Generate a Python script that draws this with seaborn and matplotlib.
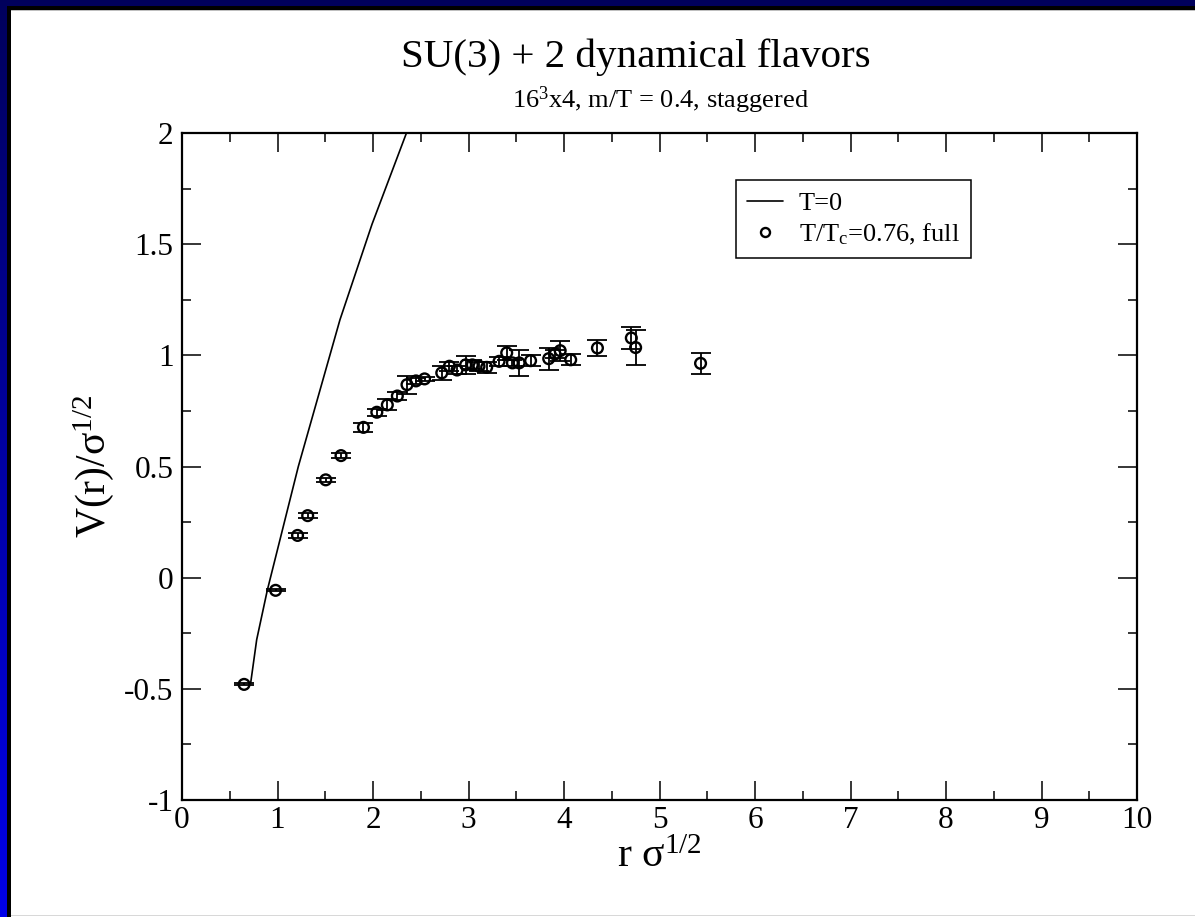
import numpy as np
import matplotlib
matplotlib.use("Agg")
import matplotlib.pyplot as plt
import seaborn as sns
from matplotlib.lines import Line2D
from matplotlib.ticker import MultipleLocator

# ---------------- data ----------------
r_pts = [0.65, 0.98, 1.21, 1.316, 1.505, 1.665, 1.90, 2.04, 2.15, 2.255, 2.356,
         2.45, 2.54, 2.72, 2.80, 2.88, 2.97, 3.04, 3.11, 3.19, 3.32, 3.40, 3.46,
         3.53, 3.65, 3.84, 3.906, 3.96, 4.07, 4.35, 4.705, 4.75, 5.43]
v_pts = [-0.48, -0.057, 0.19, 0.279, 0.44, 0.549, 0.676, 0.744, 0.777, 0.817, 0.868,
         0.885, 0.894, 0.921, 0.951, 0.934, 0.957, 0.957, 0.951, 0.946, 0.973, 1.011, 0.966,
         0.966, 0.976, 0.985, 1.006, 1.021, 0.98, 1.033, 1.078, 1.035, 0.964]
v_err = [0.005, 0.005, 0.01, 0.01, 0.01, 0.01, 0.02, 0.015, 0.025, 0.02, 0.04,
         0.015, 0.01, 0.032, 0.02, 0.02, 0.04, 0.02, 0.02, 0.025, 0.02, 0.03, 0.015,
         0.06, 0.025, 0.05, 0.02, 0.045, 0.025, 0.037, 0.05, 0.08, 0.047]

# T=0 curve, points
r_curve = [0.719, 0.782, 0.893, 1.218, 1.654, 1.99, 2.353]
v_curve = [-0.474, -0.279, -0.057, 0.50, 1.16, 1.59, 2.003]

x_ticks = [0, 1, 2, 3, 4, 5, 6, 7, 8, 9, 10]
x_labels = ["0", "1", "2", "3", "4", "5", "6", "7", "8", "9", "10"]
y_ticks = [-1, -0.5, 0, 0.5, 1, 1.5, 2]
y_labels = ["-1", "-0.5", "0", "0.5", "1", "1.5", "2"]

title = "SU(3) + 2 dynamical flavors"
subtitle = r"16$^{3}$x4, m/T = 0.4, staggered"
legend_labels = ["T=0", r"T/T$_{\mathrm{c}}$=0.76, full"]

# ---------------- style ----------------
sns.set_style("ticks")
plt.rcParams.update({
    "font.family": ["Liberation Serif", "DejaVu Serif"],
    "mathtext.fontset": "custom",
    "mathtext.rm": "Liberation Serif",
    "mathtext.it": "Liberation Serif:italic",
    "mathtext.bf": "Liberation Serif:bold",
    "axes.unicode_minus": False,
    "text.color": "black",
    "axes.labelcolor": "black",
    "xtick.color": "black",
    "ytick.color": "black",
})

W, H = 1195, 917
fig = plt.figure(figsize=(W / 100, H / 100), dpi=100)
fig.patch.set_facecolor("white")

# decorative blue frame (top and left), black inner rim
bg = np.ones((H, W, 3))
grad = np.linspace(0.36, 0.92, H)
blue = np.zeros((H, 3))
blue[:, 2] = grad
bg[:6, :, :] = blue[:6, None, :]
bg[:, :7, :] = blue[:, None, :]
bg[6:10, 7:, :] = 0.0
bg[6:, 7:11, :] = 0.0
bg[10, 11:, :] = 0.75
bg[915, 11:, :] = 0.85
fig.figimage(bg, xo=0, yo=0, origin="upper", zorder=-5)

ax = fig.add_axes([182 / W, 1 - 800 / H, (1137 - 182) / W, (800 - 133) / H])
ax.set_facecolor("white")

sns.lineplot(x=r_curve, y=v_curve, sort=False, estimator=None, color="black",
             linewidth=1.2, ax=ax, zorder=2)
ax.errorbar(r_pts, v_pts, yerr=v_err, fmt="none", ecolor="black",
            elinewidth=1.3, capsize=7, capthick=1.3, zorder=3)
sns.scatterplot(x=r_pts, y=v_pts, marker="o", s=60, ax=ax, zorder=4)
coll = ax.collections[-1]
coll.set_facecolor("none")
coll.set_edgecolor("black")
coll.set_linewidth(1.7)

ax.set_xlim(0, 10)
ax.set_ylim(-1, 2)
ax.set_xticks(x_ticks)
ax.set_xticklabels(x_labels)
ax.set_yticks(y_ticks)
ax.set_yticklabels(y_labels)
ax.xaxis.set_minor_locator(MultipleLocator(0.5))
ax.yaxis.set_minor_locator(MultipleLocator(0.25))
ax.tick_params(which="both", direction="in", top=True, right=True,
               color="black", width=1.1, labelsize=22.5, labelcolor="black")
ax.tick_params(which="major", length=13.7)
ax.tick_params(which="minor", length=6.8)
ax.tick_params(axis="x", which="major", pad=4)
ax.tick_params(axis="y", which="major", pad=6)
for s in ax.spines.values():
    s.set_visible(True)
    s.set_linewidth(1.6)
    s.set_color("black")

ax.set_xlabel(r"r σ$^{1/2}$", fontsize=30, labelpad=2, color="black")
ax.set_ylabel(r"V(r)/σ$^{1/2}$", fontsize=30, labelpad=6, color="black")

fig.text(636 / W, 1 - 66.7 / H, title, fontsize=29.5, ha="center", va="baseline",
         color="black")
fig.text(660 / W, 1 - 108.3 / H, subtitle, fontsize=19, ha="center", va="baseline",
         color="black")

handles = [Line2D([], [], color="black", linewidth=1.2),
           Line2D([], [], color="black", linestyle="none", marker="o",
                  markerfacecolor="none", markeredgewidth=1.7, markersize=6.5)]
leg = ax.legend(handles, legend_labels, loc="upper left",
                bbox_to_anchor=((736 - 182) / 955, (800 - 180) / 667),
                fontsize=19, frameon=True, fancybox=False, shadow=False,
                handlelength=1.35, handletextpad=0.6, labelspacing=0.26,
                borderpad=0.43, borderaxespad=0.0)
leg.get_frame().set_edgecolor("black")
leg.get_frame().set_linewidth(1.1)
leg.get_frame().set_alpha(1)
for t in leg.get_texts():
    t.set_color("black")

fig.savefig("out.png", dpi=100)
